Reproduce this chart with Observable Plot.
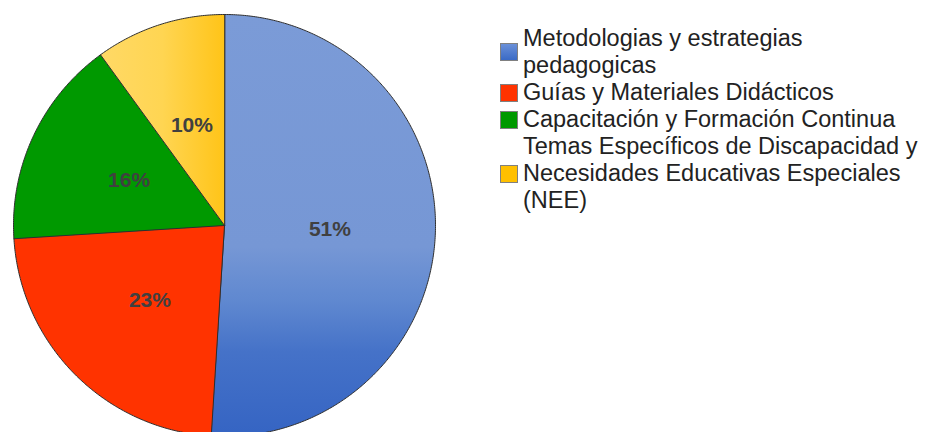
<!DOCTYPE html>
<html>
<head>
<meta charset="utf-8">
<script src="https://cdn.jsdelivr.net/npm/d3@7"></script>
<script src="https://cdn.jsdelivr.net/npm/@observablehq/plot@0.6"></script>
<style>
  html, body { margin: 0; padding: 0; background: #fff; }
  body { width: 925px; height: 432px; overflow: hidden; position: relative; font-family: "Liberation Sans", Arial, sans-serif; }
  #chart { position: absolute; left: 0; top: 0; }
  #legend { position: absolute; left: 500px; top: 25px; }
  .item { display: flex; align-items: center; }
  .swatch { width: 16px; height: 16px; border: 1px solid #808080; box-sizing: content-box; margin-right: 5px; flex: none; }
  .label { font-size: 23.5px; line-height: 27px; color: #222; white-space: nowrap; }
</style>
</head>
<body>
<svg width="0" height="0" style="position:absolute">
  <defs>
    <linearGradient id="gBlue" x1="0" y1="0" x2="0" y2="1">
      <stop offset="0" stop-color="#7b9bd7"/>
      <stop offset="0.55" stop-color="#7697d5"/>
      <stop offset="0.68" stop-color="#5f88d0"/>
      <stop offset="0.8" stop-color="#4572c8"/>
      <stop offset="1" stop-color="#3564c3"/>
    </linearGradient>
    <linearGradient id="gYellow" x1="0" y1="0" x2="1" y2="0">
      <stop offset="0" stop-color="#ffd966"/>
      <stop offset="0.5" stop-color="#ffd552"/>
      <stop offset="1" stop-color="#ffc418"/>
    </linearGradient>
    <linearGradient id="sBlue" x1="0" y1="0" x2="0" y2="1">
      <stop offset="0" stop-color="#6a90d8"/>
      <stop offset="1" stop-color="#3a6ac6"/>
    </linearGradient>
  </defs>
</svg>
<div id="chart"></div>
<div id="legend"></div>
<script>
// ---- data ----
const categories = [
  "Metodologias y estrategias pedagogicas",
  "Guías y Materiales Didácticos",
  "Capacitación y Formación Continua",
  "Temas Específicos de Discapacidad y Necesidades Educativas Especiales (NEE)"
];
const shares = [51, 23, 16, 10];
const sliceColors = ["url(#gBlue)", "#ff3300", "#009900", "url(#gYellow)"];
const swatchColors = ["url(#sBlue)", "#ff3300", "#009900", "#ffc000"];
const swatchCss = ["linear-gradient(#6a90d8,#3a6ac6)", "#ff3300", "#009900", "#ffc000"];
const legendLines = [
  ["Metodologias y estrategias", "pedagogicas"],
  ["Guías y Materiales Didácticos"],
  ["Capacitación y Formación Continua"],
  ["Temas Específicos de Discapacidad y", "Necesidades Educativas Especiales", "(NEE)"]
];

// ---- geometry from data ----
const data = categories.map((name, i) => ({name, value: shares[i], color: sliceColors[i]}));
const arcs = d3.pie().sort(null).value(d => d.value)(data);

function ring(a0, a1, center = true) {
  const pts = [];
  if (center) pts.push([0, 0]);
  const n = Math.max(2, Math.ceil((a1 - a0) / (Math.PI / 360)));
  for (let i = 0; i <= n; i++) {
    const a = a0 + (a1 - a0) * i / n;
    pts.push([Math.sin(a), Math.cos(a)]);
  }
  pts.push(pts[0]);
  return pts;
}

const slices = arcs.map(a => ({
  type: "Feature",
  properties: {name: a.data.name, color: a.data.color},
  geometry: {type: "Polygon", coordinates: [ring(a.startAngle, a.endAngle)]}
}));
const outline = {type: "Feature", properties: {}, geometry: {type: "Polygon", coordinates: [ring(0, 2 * Math.PI, false)]}};
const labels = arcs.map(a => {
  const m = (a.startAngle + a.endAngle) / 2;
  return {x: 0.5 * Math.sin(m), y: 0.5 * Math.cos(m), text: a.data.value + "%"};
});

const chart = Plot.plot({
  width: 925,
  height: 437,
  marginLeft: 12,
  marginTop: 13,
  marginRight: 489,
  marginBottom: 0,
  style: {fontFamily: "'Liberation Sans', Arial, sans-serif", background: "transparent", overflow: "visible"},
  projection: {type: "reflect-y", domain: outline, inset: 1},
  color: {type: "identity"},
  marks: [
    Plot.geo(slices, {fill: d => d.properties.color, stroke: "#2e2e2e", strokeWidth: 1, strokeLinejoin: "round"}),
    Plot.text(labels, {x: "x", y: "y", text: "text", fill: "#404040", fontSize: 21, fontWeight: "bold"})
  ]
});
document.getElementById("chart").appendChild(chart);

// ---- legend ----
const legend = document.getElementById("legend");
categories.forEach((name, i) => {
  const item = document.createElement("div");
  item.className = "item";
  const sw = document.createElement("div");
  sw.className = "swatch";
  sw.style.background = swatchCss[i];
  const lab = document.createElement("div");
  lab.className = "label";
  lab.innerHTML = legendLines[i].map(s => s.replace(/&/g, "&amp;").replace(/</g, "&lt;")).join("<br>");
  item.appendChild(sw);
  item.appendChild(lab);
  legend.appendChild(item);
});
</script>
</body>
</html>
